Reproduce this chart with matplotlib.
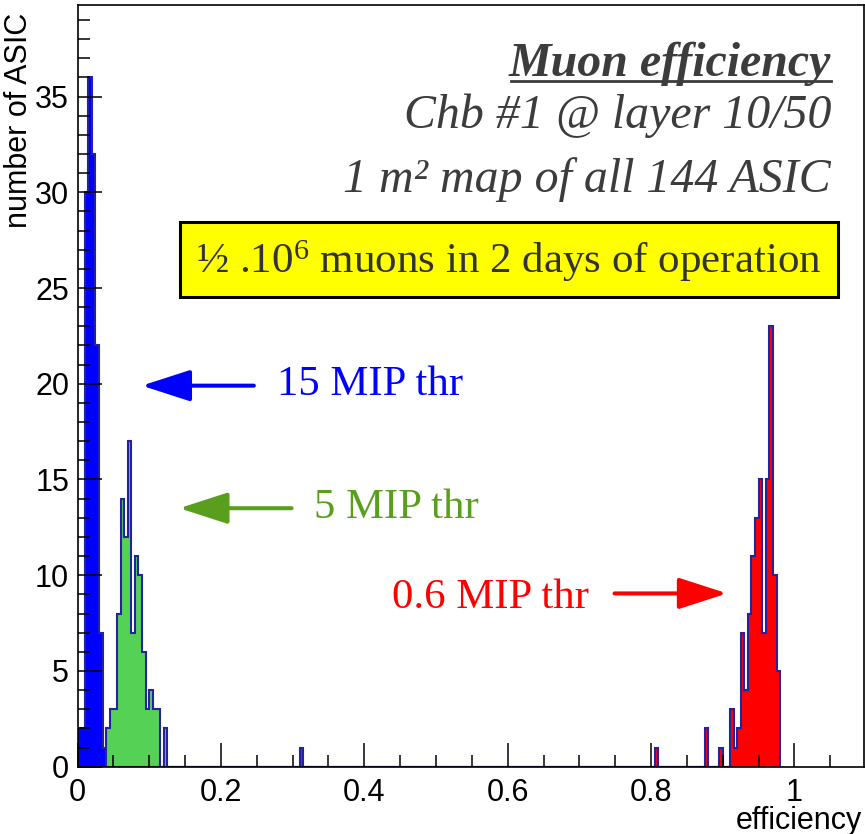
import numpy as np
import matplotlib
matplotlib.use("Agg")
import matplotlib.pyplot as plt
from matplotlib.patches import Rectangle
from matplotlib.lines import Line2D

# histogram binning (efficiency)
bin_width = 0.005
hist_end = 0.98

# 15 MIP threshold
blue_first = 0.0
blue_counts = [2, 2, 30, 36, 32, 22, 7, 1]

# 5 MIP threshold
green_first = 0.04
green_counts = [2, 3, 3, 8, 14, 12, 17, 7, 11, 10, 6, 3, 4, 3, 3, 0, 2]

# 0.6 MIP threshold
red_first = 0.91
red_counts = [3, 1, 2, 7, 4, 8, 11, 13, 15, 7, 15, 23, 10, 5]
red_single_x = [0.31, 0.805, 0.875, 0.895]
red_single_n = [1, 1, 2, 1]

x_ticks = [0, 0.2, 0.4, 0.6, 0.8, 1.0]
x_ticklabels = ["0", "0.2", "0.4", "0.6", "0.8", "1"]
y_ticks = [0, 5, 10, 15, 20, 25, 30, 35]

plt.rcParams['font.family'] = ['Liberation Sans', 'DejaVu Sans']
plt.rcParams['mathtext.fontset'] = 'custom'
plt.rcParams['mathtext.rm'] = 'Liberation Serif'
plt.rcParams['mathtext.it'] = 'Liberation Serif:italic'

edges = np.round(np.arange(0, hist_end + bin_width / 2, bin_width), 4)
nbins = len(edges) - 1


def to_bins(first, counts):
    h = np.zeros(nbins)
    i0 = int(round(first / bin_width))
    h[i0:i0 + len(counts)] = counts
    return h


blue = to_bins(blue_first, blue_counts)
green = to_bins(green_first, green_counts)
red = to_bins(red_first, red_counts)
for x, n in zip(red_single_x, red_single_n):
    red[int(round(x / bin_width))] += n

W, H = 865, 834
fig = plt.figure(figsize=(W / 100, H / 100), dpi=100)
ax = fig.add_axes([77.5 / W, (H - 766.7) / H, 786.5 / W, 761.7 / H])

outline = '#2323a0'
ax.stairs(blue, edges, fill=True, facecolor='#0000ff', edgecolor=outline, lw=1.5)
ax.stairs(green, edges, fill=True, facecolor='#55d155', edgecolor=outline, lw=1.5)
ax.stairs(red, edges, fill=True, facecolor='#ff0000', edgecolor=outline, lw=1.5)

ax.set_xlim(0, 1.097)
ax.set_ylim(0, 39.78)
ax.set_xticks(x_ticks)
ax.set_xticklabels(x_ticklabels)
ax.set_xticks(np.arange(0, 1.09, 0.05), minor=True)
ax.set_yticks(y_ticks)
ax.set_yticks(np.arange(0, 40, 1), minor=True)
ax.tick_params(which='major', direction='in', length=17, width=1.1, labelsize=22)
ax.tick_params(which='minor', direction='in', length=8.5, width=1.1)
ax.tick_params(axis='x', pad=8)
ax.tick_params(axis='y', pad=6)
for s in ax.spines.values():
    s.set_linewidth(1.2)

ax.text(0.9975, -0.051, 'efficiency', transform=ax.transAxes, ha='right', va='top', fontsize=22)
ax.text(-0.094, 0.99, 'number of ASIC', transform=ax.transAxes, rotation=90,
        ha='left', va='top', fontsize=22)

# annotations
serif = 'Liberation Serif'
gray = '#3c3c3c'
right_x = 1.051
title = ax.text(right_x, 36.07, 'Muon efficiency', ha='right', va='baseline', fontsize=34.5,
                family=serif, style='italic', weight='bold', color=gray)
ax.text(right_x, 33.34, 'Chb #1 @ layer 10/50', ha='right', va='baseline', fontsize=34.5,
        family=serif, style='italic', color=gray)
ax.text(right_x, 30.03, '1 m\u00b2 map of all 144 ASIC', ha='right', va='baseline', fontsize=34.5,
        family=serif, style='italic', color=gray)

ax.add_patch(Rectangle((0.1432, 24.53), 1.0608 - 0.1432, 28.45 - 24.53,
                       facecolor='#ffff00', edgecolor='black', lw=2.2, zorder=3))
ax.text(0.602, 25.78, '\u00bd .10$^{\\mathrm{6}}$ muons in 2 days of operation', ha='center',
        va='baseline', fontsize=31, family=serif, color='#333333', zorder=4)

labels = [
    ('15 MIP thr', '#0000ff', 0.2786, 19.41, 0.0897, 0.246, 19.9),
    ('5 MIP thr', '#5a9e1e', 0.330, 12.97, 0.142, 0.2986, 13.5),
    ('0.6 MIP thr', '#ff0000', 0.439, 8.27, 0.906, 0.749, 9.05),
]
for txt, col, tx, ty, ax_tip, ax_tail, ay in labels:
    ax.text(tx, ty, txt, color=col, fontsize=30.8, family=serif, va='baseline', ha='left')
    ax.annotate('', xy=(ax_tip, ay), xytext=(ax_tail, ay),
                arrowprops=dict(arrowstyle='-|>,head_length=30,head_width=9.7',
                                mutation_scale=1, lw=2.9, color=col,
                                shrinkA=0, shrinkB=0))

# underline the title
fig.canvas.draw()
bb = title.get_window_extent(fig.canvas.get_renderer())
base_y = ax.transData.transform((0, 36.07))[1]
inv = fig.transFigure.inverted()
(x0, y0), (x1, _) = inv.transform([(bb.x0 + 2, base_y - 4.5), (bb.x1, base_y - 4.5)])
fig.add_artist(Line2D([x0, x1], [y0, y0], color=gray, lw=2))

fig.savefig('out.png', dpi=100)
